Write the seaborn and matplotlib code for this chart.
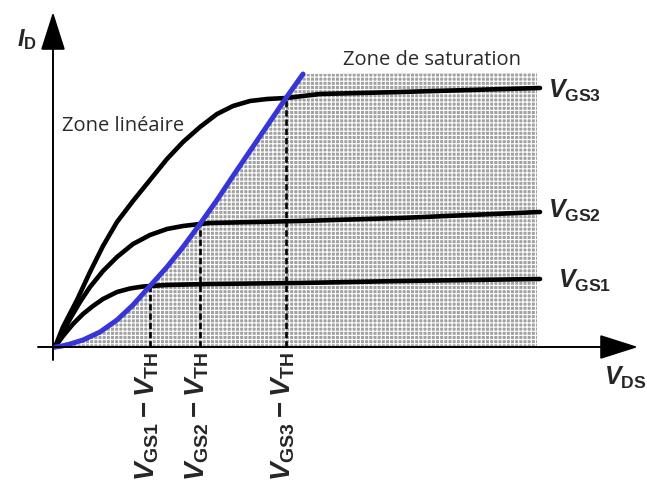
import numpy as np
import pandas as pd
import matplotlib
matplotlib.use('Agg')
import matplotlib.pyplot as plt
import seaborn as sns

sns.set_theme(style='white')
plt.rcParams['font.family'] = ['Liberation Sans', 'DejaVu Sans']
plt.rcParams['mathtext.fontset'] = 'custom'
plt.rcParams['mathtext.it'] = 'Liberation Sans:bold:italic'
plt.rcParams['mathtext.rm'] = 'Liberation Sans:bold'
plt.rcParams['mathtext.bf'] = 'Liberation Sans:bold'
plt.rcParams['hatch.linewidth'] = 0.8

# courbe limite (V_DS = V_GS - V_TH)
blue_x = [0.0, 0.07, 0.15, 0.28, 0.45, 0.62, 0.78, 0.95, 1.12, 1.28, 1.45, 1.62, 1.78, 1.95, 2.12, 2.31, 2.48]
blue_y = [0.0, 0.01, 0.03, 0.07, 0.15, 0.27, 0.42, 0.61, 0.80, 1.00, 1.23, 1.47, 1.71, 1.96, 2.21, 2.49, 2.73]

# caracteristiques I_D(V_DS)
vgs1_x = [0.0, 0.08, 0.18, 0.28, 0.38, 0.48, 0.62, 0.75, 0.88, 0.95, 1.12, 1.52, 2.45, 3.45, 4.85]
vgs1_y = [0.0, 0.11, 0.23, 0.33, 0.41, 0.48, 0.55, 0.585, 0.605, 0.61, 0.62, 0.63, 0.64, 0.66, 0.68]
vgs2_x = [0.0, 0.08, 0.15, 0.25, 0.35, 0.48, 0.62, 0.78, 0.95, 1.12, 1.28, 1.45, 1.55, 2.45, 3.45, 4.85]
vgs2_y = [0.0, 0.15, 0.28, 0.45, 0.60, 0.76, 0.90, 1.03, 1.12, 1.18, 1.21, 1.23, 1.24, 1.26, 1.29, 1.35]
vgs3_x = [0.0, 0.08, 0.22, 0.35, 0.48, 0.62, 0.78, 0.95, 1.12, 1.28, 1.45, 1.62, 1.78, 1.95, 2.12, 2.31, 2.65, 3.45, 4.85]
vgs3_y = [0.0, 0.20, 0.47, 0.75, 1.01, 1.25, 1.46, 1.67, 1.88, 2.05, 2.20, 2.33, 2.41, 2.46, 2.48, 2.49, 2.53, 2.55, 2.59]

# points de pincement (V_GSi - V_TH)
knee_x = [0.95, 1.45, 2.31]
knee_y = [0.61, 1.23, 2.49]
knee_labels = [r'$V_{\rm GS1} - V_{\rm TH}$', r'$V_{\rm GS2} - V_{\rm TH}$', r'$V_{\rm GS3} - V_{\rm TH}$']

curve_labels = [r'$V_{\rm GS1}$', r'$V_{\rm GS2}$', r'$V_{\rm GS3}$']
sat_right = 4.82
sat_top = 2.74

fig = plt.figure(figsize=(6.47, 4.90), dpi=100)
ax = fig.add_axes([0, 0, 1, 1])

# zone de saturation grisee
poly_x = blue_x + [sat_right, sat_right]
poly_y = blue_y + [sat_top, 0.0]
ax.fill(poly_x, poly_y, facecolor='#a2a2a2', edgecolor='white', hatch='++++',
        linewidth=0, zorder=1)

# pointilles verticaux
for kx, ky in zip(knee_x, knee_y):
    ax.plot([kx, kx], [0, ky], color='black', ls=(0, (2.4, 1.1)), lw=1.9, zorder=2)

curves = pd.concat([
    pd.DataFrame({'V_DS': vgs1_x, 'I_D': vgs1_y, 'courbe': 'VGS1'}),
    pd.DataFrame({'V_DS': vgs2_x, 'I_D': vgs2_y, 'courbe': 'VGS2'}),
    pd.DataFrame({'V_DS': vgs3_x, 'I_D': vgs3_y, 'courbe': 'VGS3'}),
])
sns.lineplot(data=curves, x='V_DS', y='I_D', units='courbe', estimator=None,
             color='black', lw=3.3, sort=False, ax=ax, zorder=3)
sns.lineplot(x=blue_x, y=blue_y, color='#3636d8', lw=3.6, sort=False, ax=ax, zorder=4)
ax.set_xlim(-0.55, 5.92)
ax.set_ylim(-1.43, 3.47)
ax.axis('off')

# axes avec fleches
arrow = dict(arrowstyle='-|>,head_length=1.1,head_width=0.35', color='black', lw=1.4,
             mutation_scale=22, shrinkA=0, shrinkB=0)
ax.annotate('', xy=(5.83, 0), xytext=(-0.17, 0), arrowprops=arrow, zorder=5)
ax.annotate('', xy=(-0.02, 3.35), xytext=(-0.02, -0.13), arrowprops=arrow, zorder=5)

ax.text(-0.28, 3.07, r'$I_{\rm D}$', fontsize=17, ha='center', va='center')
ax.text(5.49, -0.31, r'$V_{\rm DS}$', fontsize=18, ha='left', va='center')

label_y = [0.66, 1.36, 2.56]
label_x = [5.03, 4.93, 4.93]
for lx, ly, lab in zip(label_x, label_y, curve_labels):
    ax.text(lx, ly, lab, fontsize=18, ha='left', va='center')

for kx, lab in zip(knee_x, knee_labels):
    ax.text(kx - 0.03, -0.05, lab, fontsize=20, rotation=90, ha='center', va='top')

ax.text(0.07, 2.21, 'Zone linéaire', fontsize=14.5, family='Open Sans', color='#2a2a2a',
        ha='left', va='center')
ax.text(2.88, 2.87, 'Zone de saturation', fontsize=14.5, family='Open Sans', color='#2a2a2a',
        ha='left', va='center')

fig.savefig('out.png', dpi=100)
